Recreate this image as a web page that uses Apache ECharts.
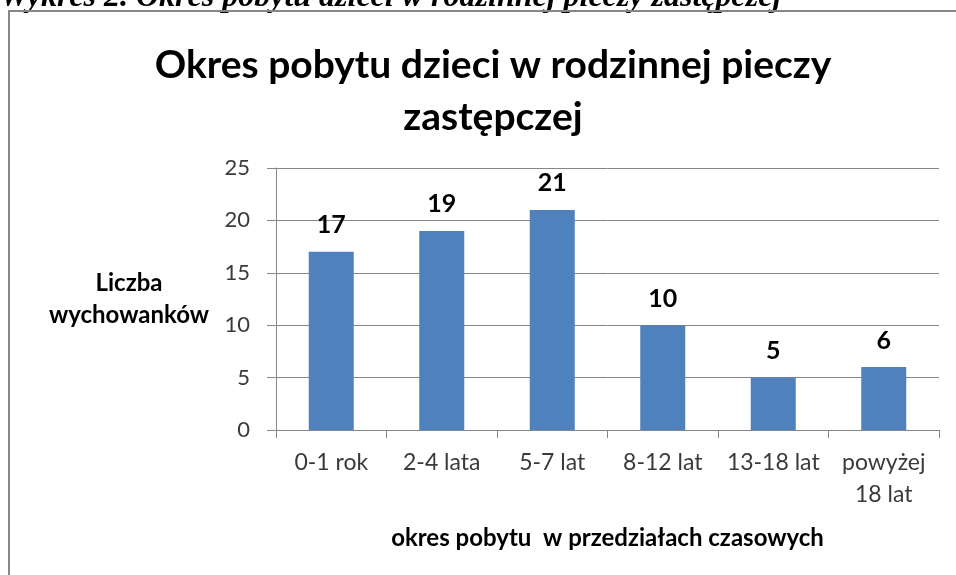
<!DOCTYPE html>
<html>
<head>
<meta charset="utf-8">
<script src="https://cdn.jsdelivr.net/npm/echarts@6/dist/echarts.min.js"></script>
<style>
    html, body { margin: 0; padding: 0; background: #fff; }
    #chart { width: 956px; height: 575px; }
</style>
</head>
<body>
<div id="chart"></div>
<script>
    // przedziały czasowe i liczba wychowanków
    var categories = ['0-1 rok', '2-4 lata', '5-7 lat', '8-12 lat', '13-18 lat', 'powyżej\n18 lat'];
    var values = [17, 19, 21, 10, 5, 6];
    var yTicks = [0, 5, 10, 15, 20, 25];

    var font = 'Lato, "Open Sans", sans-serif';
    var gray = '#868686';

    var chart = echarts.init(document.getElementById('chart'));
    var option = {
        animation: false,
        backgroundColor: '#fff',
        title: {
            text: 'Okres pobytu dzieci w rodzinnej pieczy\nzastępczej',
            left: 488,
            textAlign: 'center',
            top: 34,
            textStyle: {
                fontFamily: font,
                fontSize: 39,
                fontWeight: 'bold',
                color: '#000',
                lineHeight: 52
            }
        },
        graphic: [
            {
                type: 'text',
                left: 0,
                top: -18,
                style: {
                    text: 'Wykres 2. Okres pobytu dzieci w rodzinnej pieczy zastępczej',
                    font: 'italic bold 32px "Liberation Serif", serif',
                    fill: '#000'
                }
            },
            {
                type: 'rect',
                shape: { x: 9, y: 11, width: 1000, height: 700 },
                style: { fill: 'none', stroke: gray, lineWidth: 2 },
                silent: true
            }
        ],
        grid: {
            left: 276,
            right: 17,
            top: 168,
            bottom: 145
        },
        xAxis: {
            type: 'category',
            data: categories,
            name: 'okres pobytu  w przedziałach czasowych',
            nameLocation: 'middle',
            nameGap: 96,
            nameTextStyle: {
                fontFamily: font,
                fontSize: 24,
                fontWeight: 'bold',
                color: '#000'
            },
            axisLine: { lineStyle: { color: gray } },
            axisTick: { show: true, length: 8, lineStyle: { color: gray } },
            axisLabel: {
                fontFamily: font,
                fontSize: 23,
                color: '#3a3a3a',
                margin: 17,
                lineHeight: 32,
                interval: 0
            }
        },
        yAxis: {
            type: 'value',
            min: yTicks[0],
            max: yTicks[yTicks.length - 1],
            interval: 5,
            name: 'Liczba\nwychowanków',
            nameLocation: 'middle',
            nameRotate: 0,
            nameGap: 147,
            nameTextStyle: {
                fontFamily: font,
                fontSize: 24,
                fontWeight: 'bold',
                color: '#000',
                align: 'center',
                lineHeight: 32
            },
            axisLine: { show: true, lineStyle: { color: gray } },
            axisTick: { show: true, length: 9, lineStyle: { color: gray } },
            axisLabel: {
                fontFamily: font,
                fontSize: 22,
                color: '#3a3a3a',
                margin: 26
            },
            splitLine: { show: true, lineStyle: { color: gray, width: 1 } }
        },
        series: [
            {
                type: 'bar',
                data: values,
                barWidth: 45,
                itemStyle: { color: '#4F81BD' },
                label: {
                    show: true,
                    position: 'top',
                    distance: 14,
                    fontFamily: font,
                    fontSize: 25,
                    fontWeight: 'bold',
                    color: '#000'
                }
            }
        ]
    };
    chart.setOption(option);
</script>
</body>
</html>
